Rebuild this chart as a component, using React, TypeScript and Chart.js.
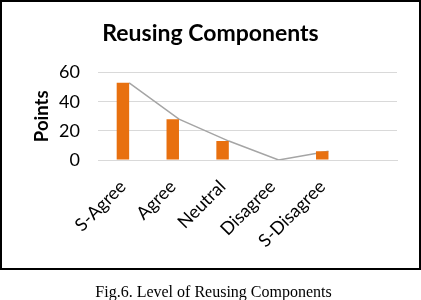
import React, { useEffect, useRef } from "react";
import { Chart, registerables } from "chart.js";

Chart.register(...registerables);

const categories: string[] = ["S-Agree", "Agree", "Neutral", "Disagree", "S-Disagree", ""];
const points: number[] = [53, 28, 13, 0, 6];
const yMin = 0;
const yMax = 60;
const yStep = 20;
const chartTitle = "Reusing Components";
const yTitle = "Points";
const caption = "Fig.6. Level of Reusing Components";

const BAR_FRACTION = 0.25;

export default function App() {
  const canvasRef = useRef<HTMLCanvasElement | null>(null);

  useEffect(() => {
    if (!canvasRef.current) return;
    const barData = categories.map((_, i) => (i < points.length ? points[i] : null));
    const lineData = points.map((v, i) => ({ x: i + BAR_FRACTION / 2, y: v }));
    const chart = new Chart(canvasRef.current, {
      type: "bar",
      data: {
        labels: categories,
        datasets: [
          {
            type: "bar",
            label: yTitle,
            data: barData,
            backgroundColor: "#E8700F",
            borderWidth: 0,
            grouped: false,
            categoryPercentage: 1,
            barPercentage: BAR_FRACTION,
            order: 0,
            xAxisID: "x",
            yAxisID: "y",
          } as any,
          {
            type: "line",
            label: "trend",
            data: lineData,
            borderColor: "#A5A5A5",
            borderWidth: 1.5,
            pointRadius: 0,
            fill: false,
            tension: 0,
            order: 1,
            xAxisID: "x2",
            yAxisID: "y",
          } as any,
        ],
      },
      options: {
        animation: false,
        responsive: false,
        maintainAspectRatio: false,
        layout: { padding: { left: 0, right: 0, top: 0, bottom: 0 } },
        plugins: {
          legend: { display: false },
          tooltip: { enabled: false },
          title: {
            display: true,
            text: chartTitle,
            color: "#000",
            font: { family: "Lato", size: 23, weight: "bold" },
            padding: { top: 18, bottom: 25 },
          },
        },
        scales: {
          x: {
            type: "category",
            offset: true,
            grid: { display: false, drawTicks: false },
            border: { display: true, color: "#D9D9D9", width: 1 },
            ticks: {
              color: "#000",
              font: { family: "Lato", size: 18 },
              minRotation: 45,
              maxRotation: 45,
              autoSkip: false,
              padding: 16,
            },
            afterFit: (scale: any) => {
              scale.height = 108;
            },
          },
          x2: {
            type: "linear",
            display: false,
            offset: false,
            grid: { offset: false },
            min: -0.5,
            max: categories.length - 0.5,
          },
          y: {
            min: yMin,
            max: yMax,
            grid: { color: "#D9D9D9", lineWidth: 1, drawTicks: false },
            border: { display: false },
            ticks: {
              stepSize: yStep,
              color: "#000",
              font: { family: "Lato", size: 18 },
              padding: 18,
            },
            title: {
              display: true,
              text: yTitle,
              color: "#000",
              font: { family: "Lato", size: 18.5, weight: "bold" },
              padding: { top: 29, bottom: 0 },
            },
            afterFit: (scale: any) => {
              scale.width = 96;
            },
          },
          yRight: {
            position: "right",
            display: true,
            min: yMin,
            max: yMax,
            grid: { display: false, drawTicks: false },
            border: { display: false },
            ticks: { display: false },
            afterFit: (scale: any) => {
              scale.width = 22;
            },
          },
        },
      },
    });
    return () => chart.destroy();
  }, []);

  return (
    <div style={{ position: "fixed", left: 0, top: 0, width: 421, height: 300, background: "#fff" }}>
      <div
        style={{
          position: "absolute",
          left: 0,
          top: 0,
          width: 421,
          height: 270,
          border: "2px solid #000",
          boxSizing: "border-box",
        }}
      >
        <canvas ref={canvasRef} width={417} height={266} style={{ display: "block", width: 417, height: 266 }} />
      </div>
      <div
        style={{
          position: "absolute",
          left: 6,
          top: 282,
          width: 415,
          height: 19,
          lineHeight: "19px",
          textAlign: "center",
          fontFamily: "'Liberation Serif', serif",
          fontSize: 16,
          color: "#000",
        }}
      >
        {caption}
      </div>
    </div>
  );
}
